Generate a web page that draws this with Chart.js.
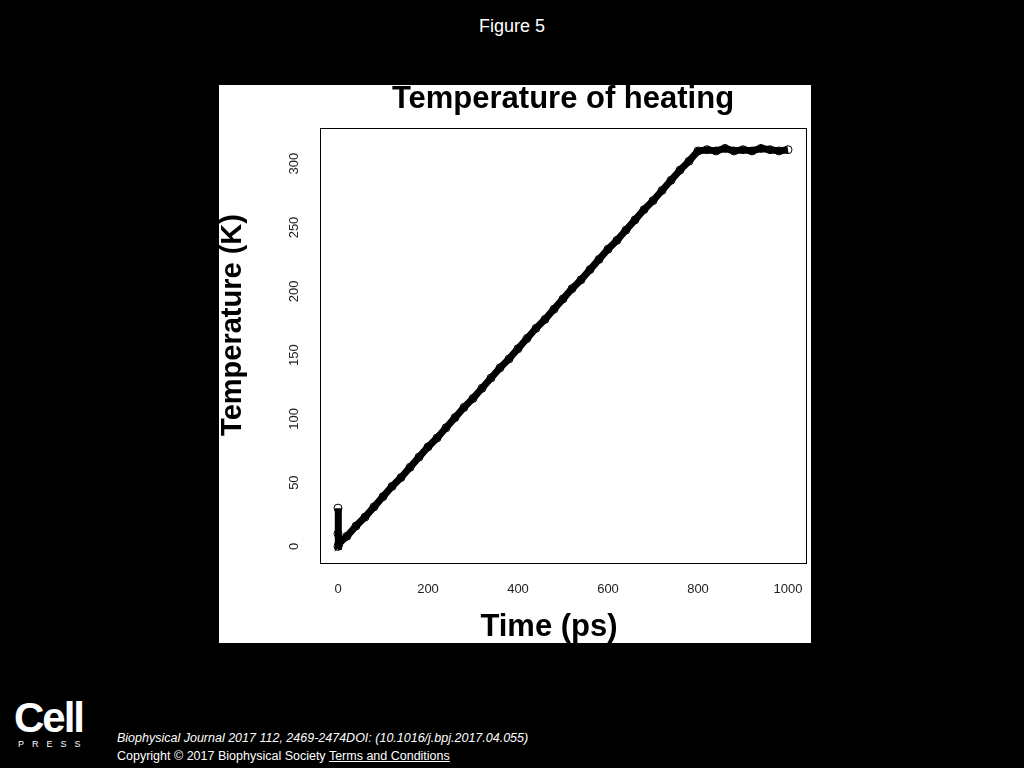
<!DOCTYPE html>
<html><head><meta charset="utf-8">
<script src="https://cdn.jsdelivr.net/npm/chart.js@4"></script>
<style>
body{margin:0;background:#000;width:1024px;height:768px;position:relative;overflow:hidden;font-family:"Liberation Sans",Arial,sans-serif;color:#fff}
#fig{position:absolute;top:16px;left:0;width:1024px;text-align:center;font-size:18px}
#panel{position:absolute;left:219px;top:85px;width:592px;height:558px;background:#fff}
#logo{position:absolute;left:14px;top:698px;font-size:42px;font-weight:bold;letter-spacing:-2px;line-height:40px}
#press{position:absolute;left:18px;top:739px;font-size:9px;letter-spacing:8px}
#cit{position:absolute;left:117px;top:731px;font-size:12.5px;font-style:italic}
#copy{position:absolute;left:117px;top:749px;font-size:12.5px}
#copy u{color:#fff}
</style></head><body>
<div id="fig">Figure 5</div>
<div id="panel"><canvas id="c" width="592" height="558"></canvas></div>
<div id="logo">Cell</div><div id="press">PRESS</div>
<div id="cit">Biophysical Journal 2017 112, 2469-2474DOI: (10.1016/j.bpj.2017.04.055)</div>
<div id="copy">Copyright © 2017 Biophysical Society <u>Terms and Conditions</u></div>
<script>
const times = [0,0,0,2,20,40,60,80,100,120,140,160,180,200,220,240,260,280,300,320,340,360,380,400,420,440,460,480,500,520,540,560,580,600,620,640,660,680,700,720,740,760,780,800,820,840,860,880,900,920,940,960,980,1000];
const temps = [0,30,10,2,8,16,23,31,39,47,54,62,70,78,85,93,101,109,116,124,132,140,147,155,163,171,178,186,194,202,209,217,225,233,240,248,256,264,271,279,287,295,302,310,311,310,312,310,311,310,312,311,310,311];
const xTicks = [0,200,400,600,800,1000];
const yTicks = [0,50,100,150,200,250,300];
const chartTitle = 'Temperature of heating', xTitle = 'Time (ps)', yTitle = 'Temperature (K)';
const pts = times.map((t,i)=>({x:t,y:temps[i]}));
new Chart(document.getElementById('c'),{
 type:'scatter',
 data:{datasets:[{data:pts,showLine:true,borderColor:'#000',borderWidth:7,pointRadius:4,pointBorderColor:'#000',pointBackgroundColor:'rgba(0,0,0,0)',pointBorderWidth:1}]},
 options:{responsive:false,animation:false,devicePixelRatio:1,
  layout:{padding:{left:0,right:3,top:43,bottom:0}},
  plugins:{legend:{display:false},tooltip:{enabled:false},title:{display:false}},
  scales:{
   x:{type:'linear',min:-40,max:1040,afterBuildTicks:a=>{a.ticks=xTicks.map(v=>({value:v}))},afterFit:a=>{a.height=80},
    grid:{display:false,tickLength:6,tickColor:'#000'},border:{color:'#000',width:1},
    ticks:{display:false}},
   y:{min:-13,max:328,afterBuildTicks:a=>{a.ticks=yTicks.map(v=>({value:v}))},afterFit:a=>{a.width=101},
    grid:{display:false,tickLength:6,tickColor:'#000'},border:{color:'#000',width:1},
    ticks:{display:false}}
  }},
 plugins:[{id:'box',afterDraw(c){const a=c.chartArea,x=c.ctx,ys=c.scales.y,xs=c.scales.x;x.save();x.strokeStyle='#000';x.lineWidth=1;x.strokeRect(a.left+0.5,a.top+0.5,a.width,a.height);
  x.fillStyle='#222';x.font='13px "Liberation Sans"';x.textAlign='center';x.textBaseline='bottom';
  yTicks.forEach(v=>{x.save();x.translate(a.left-19,ys.getPixelForValue(v));x.rotate(-Math.PI/2);x.fillText(String(v),0,0);x.restore();});
  x.textBaseline='middle';
  xTicks.forEach(v=>x.fillText(String(v),xs.getPixelForValue(v),a.bottom+26));
  x.fillStyle='#000';
  x.font='bold 31px "Liberation Sans"';x.fillText(chartTitle,344,14);
  x.fillText(xTitle,330,542);
  x.save();x.translate(14,240);x.rotate(-Math.PI/2);x.font='bold 29px "Liberation Sans"';x.fillText(yTitle,0,0);x.restore();
  x.restore();}}]
});
</script></body></html>
